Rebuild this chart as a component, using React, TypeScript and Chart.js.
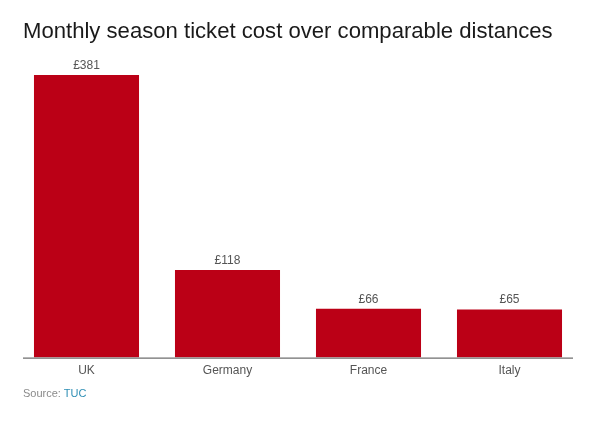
import React, { useEffect, useRef } from 'react';
import { Chart, registerables } from 'chart.js';

Chart.register(...registerables);

const countries = ['UK', 'Germany', 'France', 'Italy'];
const costs = [381, 118, 66, 65];
const costLabels = ['£381', '£118', '£66', '£65'];

const FONT = '"Liberation Sans", Arial, sans-serif';

// value labels above the bars and the baseline, which is shorter than the category band
const extras = {
  id: 'extras',
  afterDatasetsDraw(chart: Chart) {
    const { ctx, scales } = chart;
    const y0 = scales.y.getPixelForValue(0);
    ctx.save();
    ctx.strokeStyle = '#6e6e6e';
    ctx.lineWidth = 1.2;
    ctx.beginPath();
    ctx.moveTo(23, y0 + 0.5);
    ctx.lineTo(573, y0 + 0.5);
    ctx.stroke();

    ctx.font = '12px ' + FONT;
    ctx.fillStyle = '#555555';
    ctx.textAlign = 'center';
    ctx.textBaseline = 'alphabetic';
    chart.getDatasetMeta(0).data.forEach((bar, i) => {
      ctx.fillText(costLabels[i], bar.x, bar.y - 6);
    });
    ctx.restore();
  },
};

export default function App() {
  const canvasRef = useRef<HTMLCanvasElement | null>(null);

  useEffect(() => {
    if (!canvasRef.current) return;
    const chart = new Chart(canvasRef.current, {
      type: 'bar',
      data: {
        labels: countries,
        datasets: [
          {
            data: costs,
            backgroundColor: '#bb0016',
            barPercentage: 1,
            categoryPercentage: 0.745,
          },
        ],
      },
      options: {
        animation: false,
        responsive: false,
        layout: { padding: { left: 16, right: 20, top: 75, bottom: 47 } },
        plugins: { legend: { display: false }, tooltip: { enabled: false } },
        scales: {
          x: {
            grid: { display: false, drawTicks: false },
            border: { display: false },
            ticks: {
              color: '#555555',
              font: { family: FONT, size: 12 },
              padding: 6,
              maxRotation: 0,
            },
          },
          y: { display: false, min: 0, max: 381 },
        },
      },
      plugins: [extras],
    });
    return () => chart.destroy();
  }, []);

  return (
    <div style={{ position: 'absolute', left: 0, top: 0, width: 600, height: 431, background: '#fff', overflow: 'hidden', fontFamily: FONT }}>
      <canvas ref={canvasRef} width={600} height={431} style={{ display: 'block' }} />
      <div style={{ position: 'absolute', left: 23, top: 18, fontSize: 22.12, lineHeight: '26px', color: '#1a1a1a', whiteSpace: 'nowrap' }}>
        Monthly season ticket cost over comparable distances
      </div>
      <div style={{ position: 'absolute', left: 23, top: 387, fontSize: 11, lineHeight: '13px', color: '#8a8a8a', whiteSpace: 'nowrap' }}>
        Source: <span style={{ color: '#2f8fb5' }}>TUC</span>
      </div>
    </div>
  );
}
